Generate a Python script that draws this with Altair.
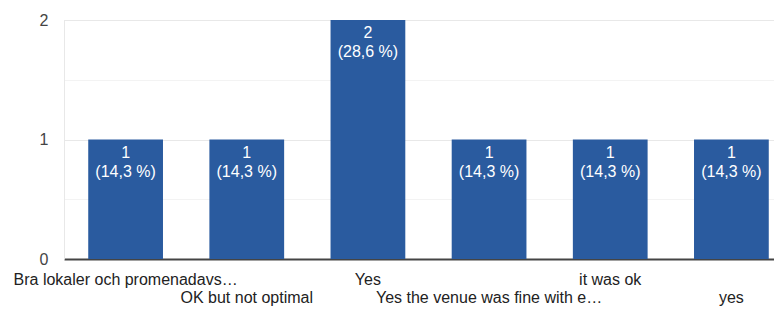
import json
import altair as alt
import pandas as pd

categories = [
    "Bra lokaler och promenadavs…",
    "OK but not optimal",
    "Yes",
    "Yes the venue was fine with e…",
    "it was ok",
    "yes",
]
counts = [1, 1, 2, 1, 1, 1]
percent_labels = ["(14,3 %)", "(14,3 %)", "(28,6 %)", "(14,3 %)", "(14,3 %)", "(14,3 %)"]
y_ticks = [0, 0.5, 1, 1.5, 2]

df = pd.DataFrame({
    "answer": categories,
    "count": counts,
    "label": [f"{c}\n{p}" for c, p in zip(counts, percent_labels)],
})

FONT = "Liberation Sans"
BAR = "#2a5b9f"

second_row = json.dumps(categories[1::2])

x_enc = alt.X(
    "answer:N",
    sort=categories,
    scale=alt.Scale(range=[0, 729], paddingInner=0.383, paddingOuter=0.2),
    axis=alt.Axis(
        title=None, labelAngle=0, ticks=False, grid=False,
        domainColor="#444", domainWidth=2,
        labelFontSize=16, labelColor="#222", labelFont=FONT,
        labelOverlap=False, labelLimit=400, labelBaseline="alphabetic",
        labelPadding={"condition": {"test": f"indexof({second_row}, datum.value) >= 0", "value": 43}, "value": 25},
    ),
)
y_enc = alt.Y(
    "count:Q",
    scale=alt.Scale(domain=[0, 2], nice=False),
    axis=alt.Axis(
        title=None, values=y_ticks,
        labelExpr="datum.value % 1 == 0 ? format(datum.value, 'd') : ''",
        grid=True,
        gridColor={"condition": {"test": "datum.value % 1 != 0", "value": "#f3f3f3"}, "value": "#e8e8e8"},
        gridOpacity={"condition": {"test": "datum.value == 0", "value": 0}, "value": 1},
        ticks=False, domain=True, domainColor="#e8e8e8",
        labelPadding=16, labelFontSize=16, labelColor="#444", labelFont=FONT,
    ),
)

bars = alt.Chart(df).mark_bar(color=BAR).encode(x=x_enc, y=y_enc)
texts = alt.Chart(df).mark_text(
    baseline="alphabetic", dy=18, lineBreak="\n", fontSize=16, lineHeight=19,
    color="#ffffff", font=FONT,
).encode(x=alt.X("answer:N", sort=categories), y="count:Q", text="label:N")

chart = alt.layer(bars, texts).properties(
    width=710, height=239,
    autosize=alt.AutoSizeParams(type="none"),
    padding={"left": 56, "top": 12, "right": 0, "bottom": 47},
).configure_view(stroke=None).configure(background="white")

chart.save("out.html", embed_options={"renderer": "svg", "actions": False})
